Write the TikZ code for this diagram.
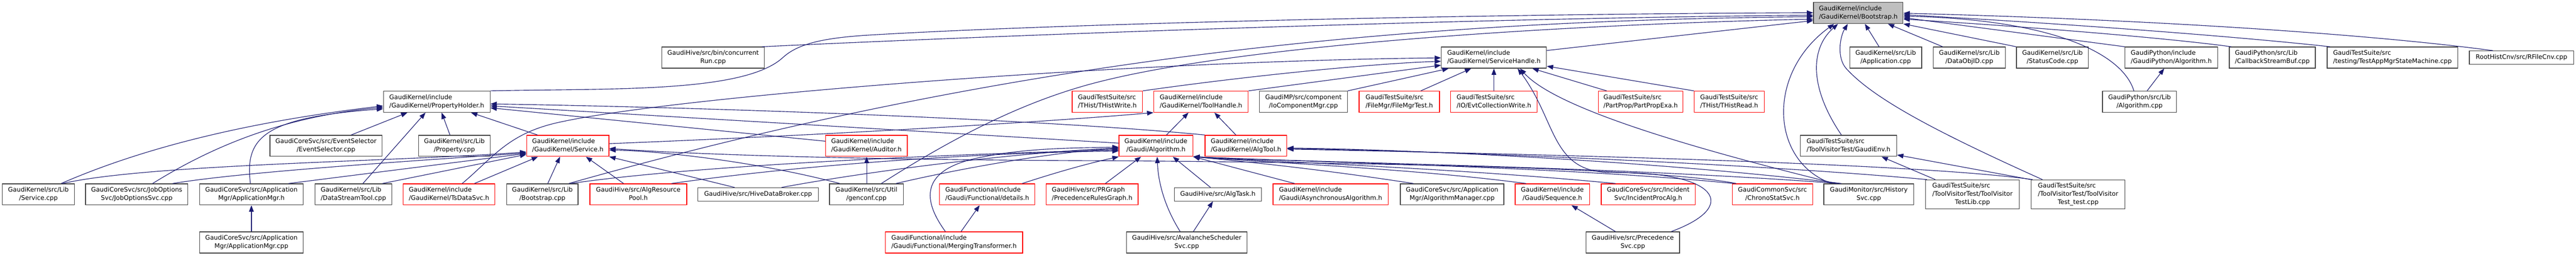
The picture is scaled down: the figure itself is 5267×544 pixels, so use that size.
\documentclass[tikz,border=0pt]{standalone}
\usepackage{fontspec}
\setmainfont{DejaVu Sans}
\usetikzlibrary{arrows.meta}
\definecolor{edgeblue}{HTML}{191970}
\definecolor{nodegray}{HTML}{404040}
\definecolor{nodered}{HTML}{FF0000}
\definecolor{bootfill}{HTML}{BFBFBF}
\newcommand\nfont{\fontsize{6.4}{8.35}\selectfont}
\newcommand\lblii[2]{\begin{tabular}{@{}l@{}}#1\\\hfil#2\end{tabular}}
\newcommand\lbliii[3]{\begin{tabular}{@{}l@{}}#1\\#2\\\hfil#3\end{tabular}}
\tikzset{
  nb/.style={draw=nodegray, line width=0.7pt, fill=white, inner sep=0pt, font=\nfont},
  nr/.style={nb, draw=nodered},
  sz/.style 2 args={minimum width=#1*0.5pt, minimum height=#2*0.5pt},
  e/.style={draw=edgeblue, line width=0.6pt, -{Triangle[length=6.5pt,width=4.8pt]}},
}
\begin{document}
\begin{tikzpicture}[x=0.5pt,y=-0.5pt]
\fill[white] (0,0) rectangle (5267,544);
\useasboundingbox (0,0) rectangle (5267,544);
% ---- row 0
\node[nb,sz={183}{43},fill=bootfill] (boot) at (3799.5,26.5) {\lblii{GaudiKernel/include}{/GaudiKernel/Bootstrap.h}};
% ---- row 1
\node[nb,sz={210}{43}] (crun) at (1458,117.5) {\lblii{GaudiHive/src/bin/concurrent}{Run.cpp}};
\node[nb,sz={215}{43}] (svh) at (3054.5,117.5) {\lblii{GaudiKernel/include}{/GaudiKernel/ServiceHandle.h}};
\node[nb,sz={147}{43}] (app) at (3855.5,117.5) {\lblii{GaudiKernel/src/Lib}{/Application.cpp}};
\node[nb,sz={147}{43}] (doid) at (4026.5,117.5) {\lblii{GaudiKernel/src/Lib}{/DataObjID.cpp}};
\node[nb,sz={147}{43}] (sc) at (4196.5,117.5) {\lblii{GaudiKernel/src/Lib}{/StatusCode.cpp}};
\node[nb,sz={189}{43}] (gpalgh) at (4439.5,117.5) {\lblii{GaudiPython/include}{/GaudiPython/Algorithm.h}};
\node[nb,sz={176}{43}] (cbsb) at (4646,117.5) {\lblii{GaudiPython/src/Lib}{/CallbackStreamBuf.cpp}};
\node[nb,sz={267}{43}] (tams) at (4891.5,117.5) {\lblii{GaudiTestSuite/src}{/testing/TestAppMgrStateMachine.cpp}};
\node[nb,sz={213}{27}] (rfc) at (5155.5,117.5) {RootHistCnv/src/RFileCnv.cpp};
% ---- row 2
\node[nb,sz={218}{43}] (ph) at (893,207.5) {\lblii{GaudiKernel/include}{/GaudiKernel/PropertyHolder.h}};
\node[nr,sz={144}{43}] (thw) at (2264,207.5) {\lblii{GaudiTestSuite/src}{/THist/THistWrite.h}};
\node[nr,sz={193}{43}] (th) at (2455.5,207.5) {\lblii{GaudiKernel/include}{/GaudiKernel/ToolHandle.h}};
\node[nb,sz={180}{43}] (iocm) at (2665,207.5) {\lblii{GaudiMP/src/component}{/IoComponentMgr.cpp}};
\node[nr,sz={164}{43}] (fmt) at (2861,207.5) {\lblii{GaudiTestSuite/src}{/FileMgr/FileMgrTest.h}};
\node[nr,sz={177}{43}] (ecw) at (3054.5,207.5) {\lblii{GaudiTestSuite/src}{/IO/EvtCollectionWrite.h}};
\node[nr,sz={173}{43}] (ppe) at (3354.5,207.5) {\lblii{GaudiTestSuite/src}{/PartProp/PartPropExa.h}};
\node[nr,sz={143}{43}] (thr) at (3535.5,207.5) {\lblii{GaudiTestSuite/src}{/THist/THistRead.h}};
\node[nb,sz={151}{43}] (gpalgcpp) at (4374.5,207.5) {\lblii{GaudiPython/src/Lib}{/Algorithm.cpp}};
% ---- row 3
\node[nb,sz={229}{43}] (evs) at (666.5,297.5) {\lblii{GaudiCoreSvc/src/EventSelector}{/EventSelector.cpp}};
\node[nb,sz={146}{43}] (prop) at (929,297.5) {\lblii{GaudiKernel/src/Lib}{/Property.cpp}};
\node[nr,sz={168}{43}] (svch) at (1161,297.5) {\lblii{GaudiKernel/include}{/GaudiKernel/Service.h}};
\node[nr,sz={167}{43}] (aud) at (1771.5,297.5) {\lblii{GaudiKernel/include}{/GaudiKernel/Auditor.h}};
\node[nr,sz={151}{43}] (algh) at (2363.5,297.5) {\lblii{GaudiKernel/include}{/Gaudi/Algorithm.h}};
\node[nr,sz={167}{43}] (algtool) at (2547.5,297.5) {\lblii{GaudiKernel/include}{/GaudiKernel/AlgTool.h}};
\node[nb,sz={197}{43}] (genv) at (3779.5,297.5) {\lblii{GaudiTestSuite/src}{/ToolVisitorTest/GaudiEnv.h}};
% ---- row 4
\node[nb,sz={147}{43}] (svccpp) at (78.5,396.5) {\lblii{GaudiKernel/src/Lib}{/Service.cpp}};
\node[nb,sz={209}{43}] (jos) at (279.5,396.5) {\lblii{GaudiCoreSvc/src/JobOptions}{Svc/JobOptionsSvc.cpp}};
\node[nb,sz={212}{43}] (amh) at (514,396.5) {\lblii{GaudiCoreSvc/src/Application}{Mgr/ApplicationMgr.h}};
\node[nb,sz={157}{43}] (dst) at (722.5,396.5) {\lblii{GaudiKernel/src/Lib}{/DataStreamTool.cpp}};
\node[nr,sz={188}{43}] (tsd) at (918,396.5) {\lblii{GaudiKernel/include}{/GaudiKernel/TsDataSvc.h}};
\node[nb,sz={146}{43}] (bcpp) at (1109,396.5) {\lblii{GaudiKernel/src/Lib}{/Bootstrap.cpp}};
\node[nr,sz={198}{43}] (arp) at (1305,396.5) {\lblii{GaudiHive/src/AlgResource}{Pool.h}};
\node[nb,sz={246}{27}] (hdb) at (1550,396.5) {GaudiHive/src/HiveDataBroker.cpp};
\node[nb,sz={151}{43}] (gc) at (1771.5,396.5) {\lblii{GaudiKernel/src/Util}{/genconf.cpp}};
\node[nr,sz={195}{43}] (det) at (2018.5,396.5) {\lblii{GaudiFunctional/include}{/Gaudi/Functional/details.h}};
\node[nr,sz={188}{43}] (prg) at (2233,396.5) {\lblii{GaudiHive/src/PRGraph}{/PrecedenceRulesGraph.h}};
\node[nb,sz={178}{27}] (atask) at (2490,396.5) {GaudiHive/src/AlgTask.h};
\node[nr,sz={235}{43}] (async) at (2720.5,396.5) {\lblii{GaudiKernel/include}{/Gaudi/AsynchronousAlgorithm.h}};
\node[nb,sz={212}{43}] (algm) at (2969,396.5) {\lblii{GaudiCoreSvc/src/Application}{Mgr/AlgorithmManager.cpp}};
\node[nr,sz={152}{43}] (seq) at (3174,396.5) {\lblii{GaudiKernel/include}{/Gaudi/Sequence.h}};
\node[nr,sz={192}{43}] (ipa) at (3370,396.5) {\lblii{GaudiCoreSvc/src/Incident}{Svc/IncidentProcAlg.h}};
\node[nr,sz={164}{43}] (css) at (3624,396.5) {\lblii{GaudiCommonSvc/src}{/ChronoStatSvc.h}};
\node[nb,sz={184}{43}] (hsvc) at (3821,396.5) {\lblii{GaudiMonitor/src/History}{Svc.cpp}};
\node[nb,sz={192}{59}] (tvl) at (4033,396.5) {\lbliii{GaudiTestSuite/src}{/ToolVisitorTest/ToolVisitor}{TestLib.cpp}};
\node[nb,sz={192}{59}] (tvt) at (4249,396.5) {\lbliii{GaudiTestSuite/src}{/ToolVisitorTest/ToolVisitor}{Test\_test.cpp}};
% ---- row 5
\node[nb,sz={212}{43}] (amcpp) at (514,494.5) {\lblii{GaudiCoreSvc/src/Application}{Mgr/ApplicationMgr.cpp}};
\node[nr,sz={281}{43}] (mt) at (1950.5,494.5) {\lblii{GaudiFunctional/include}{/Gaudi/Functional/MergingTransformer.h}};
\node[nb,sz={247}{43}] (ass) at (2426.5,494.5) {\lblii{GaudiHive/src/AvalancheScheduler}{Svc.cpp}};
\node[nb,sz={191}{43}] (psvc) at (3338.5,494.5) {\lblii{GaudiHive/src/Precedence}{Svc.cpp}};

% ===== edges into Bootstrap.h
\draw[e] (1558,0 |- crun.north) .. controls (2200,65) and (3100,36) .. (boot.west |- 0,31);
\draw[e] (ph.north east) .. controls (1250,180) and (1520,190) .. (1600,118) .. controls (1630,90) and (1680,78) .. (1770,72) .. controls (2200,46) and (3100,28) .. (boot.west |- 0,26);
\draw[e] (svh.east |- 0,103) -- (boot.west |- 0,42);
\draw[e] (3842,0 |- app.north) -- (3813,0 |- boot.south);
\draw[e] (3972,0 |- doid.north) -- (3860,0 |- boot.south);
\draw[e] (sc.north west) -- (boot.south east);
\draw[e] (gpalgh.north west) -- (boot.east |- 0,36);
\draw[e] (4562,0 |- cbsb.north) .. controls (4450,80) and (4200,58) .. (boot.east |- 0,39);
\draw[e] (4764,0 |- tams.north) .. controls (4550,72) and (4200,47) .. (boot.east |- 0,30);
\draw[e] (5097,0 |- rfc.north) .. controls (4850,70) and (4400,40) .. (boot.east |- 0,27);
\draw[e] (4363,0 |- gpalgcpp.north) .. controls (4340,110) and (4200,40) .. (boot.east |- 0,33);
\draw[e] (3765,0 |- genv.north) .. controls (3700,180) and (3700,100) .. (3758,0 |- boot.south);
\draw[e] (3745,0 |- hsvc.north) .. controls (3620,330) and (3610,150) .. (3750,0 |- boot.south);
\draw[e] (4176,0 |- tvt.north) .. controls (3950,265) and (3830,200) .. (3775,140) .. controls (3755,118) and (3762,75) .. (3778,0 |- boot.south);
\draw[e] (1802,0 |- gc.north) .. controls (1950,280) and (2080,215) .. (2210,177) .. controls (2500,92) and (3200,50) .. (boot.west |- 0,39);
\draw[e] (1163,0 |- bcpp.north) .. controls (2100,110) and (2900,42) .. (boot.west |- 0,34);

% ===== edges into PropertyHolder.h
\draw[e] (125,0 |- svccpp.north) .. controls (250,320) and (450,255) .. (ph.west |- 0,216);
\draw[e] (312,0 |- jos.north) .. controls (400,320) and (550,240) .. (ph.west |- 0,219);
\draw[e] (512,0 |- amh.north) .. controls (500,280) and (540,240) .. (ph.west |- 0,222);
\draw[e] (718,0 |- evs.north) -- (833,0 |- ph.south);
\draw[e] (742,0 |- dst.north) -- (870,0 |- ph.south);
\draw[e] (920,0 |- prop.north) -- (903,0 |- ph.south);
\draw[e] (1099,0 |- svch.north) -- (963,0 |- ph.south);
\draw[e] (aud.west |- 0,288) -- (ph.east |- 0,220);
\draw[e] (algh.west |- 0,292) -- (ph.east |- 0,216);
\draw[e] (algtool.north west) .. controls (2150,245) and (1500,220) .. (ph.east |- 0,212);

% ===== edges into Service.h
\draw[e] (128,0 |- svccpp.north) .. controls (300,335) and (800,330) .. (svch.west |- 0,310);
\draw[e] (353,0 |- jos.north) .. controls (500,350) and (850,328) .. (svch.west |- 0,312);
\draw[e] (590,0 |- amh.north) -- (svch.west |- 0,313);
\draw[e] (782,0 |- dst.north) -- (svch.west |- 0,315);
\draw[e] (970,0 |- tsd.north) -- (1100,0 |- svch.south);
\draw[e] (1120,0 |- bcpp.north) -- (1145,0 |- svch.south);
\draw[e] (1275,0 |- arp.north) -- (1198,0 |- svch.south);
\draw[e] (1502,0 |- hdb.north) -- (svch.south east);
\draw[e] (1717,0 |- gc.north) .. controls (1550,330) and (1350,308) .. (svch.east |- 0,306);
\draw[e] (3550,0 |- css.north) .. controls (3400,345) and (2900,333) .. (2300,328) .. controls (1900,327) and (1500,320) .. (svch.east |- 0,303);

% ===== Service.h -> ToolHandle.h, Auditor, ToolHandle
\draw[e] (svch.east |- 0,293) .. controls (1700,275) and (2150,248) .. (th.south west);
\draw[e] (1772,0 |- gc.north) -- (1772,0 |- aud.south);
\draw[e] (2385,0 |- algh.north) -- (2430,0 |- th.south);
\draw[e] (2527,0 |- algtool.north) -- (2483,0 |- th.south);

% ===== edges into ServiceHandle.h
\draw[e] (945,0 |- tsd.north) .. controls (1010,320) and (1040,270) .. (1150,248) .. controls (1400,195) and (2300,125) .. (svh.west |- 0,118);
\draw[e] (thw.north east) .. controls (2550,155) and (2800,130) .. (svh.west |- 0,125);
\draw[e] (th.north east) -- (svh.west |- 0,133);
\draw[e] (iocm.north east) -- (2962,0 |- svh.south);
\draw[e] (2905,0 |- fmt.north) -- (3008,0 |- svh.south);
\draw[e] (ecw.north) -- (svh.south);
\draw[e] (3285,0 |- ppe.north) -- (3133,0 |- svh.south);
\draw[e] (thr.north west) -- (svh.east |- 0,135);
\draw[e] (3417,0 |- psvc.north) .. controls (3560,420) and (3510,350) .. (3300,352) .. controls (3170,354) and (3185,250) .. (3103,0 |- svh.south);
\draw[e] (3753,0 |- hsvc.north) .. controls (3450,300) and (3180,220) .. (3108,0 |- svh.south);

% ===== small vertical / short edges
\draw[e] (3957,0 |- tvl.north) -- (3847,0 |- genv.south);
\draw[e] (tvt.north west) -- (genv.east |- 0,316);
\draw[e] (4390,0 |- gpalgcpp.north) -- (4425,0 |- gpalgh.south);
\draw[e] (amcpp.north) -- (amh.south);
\draw[e] (1965,0 |- mt.north) -- (2003,0 |- det.south);
\draw[e] (2440,0 |- ass.north) -- (2480,0 |- atask.south);
\draw[e] (3303,0 |- psvc.north) -- (3213,0 |- seq.south);

% ===== edges into Algorithm.h
\draw[e] (1167,0 |- bcpp.north) .. controls (1400,340) and (1900,315) .. (algh.west |- 0,306);
\draw[e] (1373,0 |- arp.north) .. controls (1650,335) and (2000,312) .. (algh.west |- 0,308);
\draw[e] (1598,0 |- hdb.north) .. controls (1800,345) and (2100,310) .. (algh.west |- 0,302);
\draw[e] (1832,0 |- gc.north) .. controls (2000,335) and (2200,305) .. (algh.west |- 0,304);
\draw[e] (1933,0 |- mt.north) .. controls (1880,400) and (1890,345) .. (2000,322) .. controls (2100,301) and (2200,302) .. (algh.west |- 0,300);
\draw[e] (2090,0 |- det.north) .. controls (2180,345) and (2240,330) .. (algh.south west);
\draw[e] (2260,0 |- prg.north) -- (2333,0 |- algh.south);
\draw[e] (2413,0 |- ass.north) .. controls (2380,420) and (2368,370) .. (2366,0 |- algh.south);
\draw[e] (2475,0 |- atask.north) -- (2398,0 |- algh.south);
\draw[e] (2647,0 |- async.north) -- (algh.south east);
\draw[e] (2890,0 |- algm.north) .. controls (2700,345) and (2550,330) .. (algh.south east);
\draw[e] (3120,0 |- seq.north) .. controls (2900,345) and (2600,332) .. (algh.south east);
\draw[e] (3303,0 |- ipa.north) .. controls (3000,345) and (2650,332) .. (algh.south east);
\draw[e] (3545,0 |- css.north) .. controls (3200,340) and (2700,332) .. (algh.south east);
\draw[e] (3760,0 |- hsvc.north) .. controls (3300,340) and (2800,335) .. (algh.south east);

% ===== edges into AlgTool.h
\draw[e] (3765,0 |- hsvc.north) .. controls (3400,330) and (2900,305) .. (algtool.east |- 0,302);
\draw[e] (3940,0 |- tvl.north) .. controls (3600,335) and (3000,310) .. (algtool.east |- 0,303);
\draw[e] (4156,0 |- tvt.north) .. controls (3900,330) and (3000,312) .. (algtool.east |- 0,304);
\end{tikzpicture}
\end{document}
